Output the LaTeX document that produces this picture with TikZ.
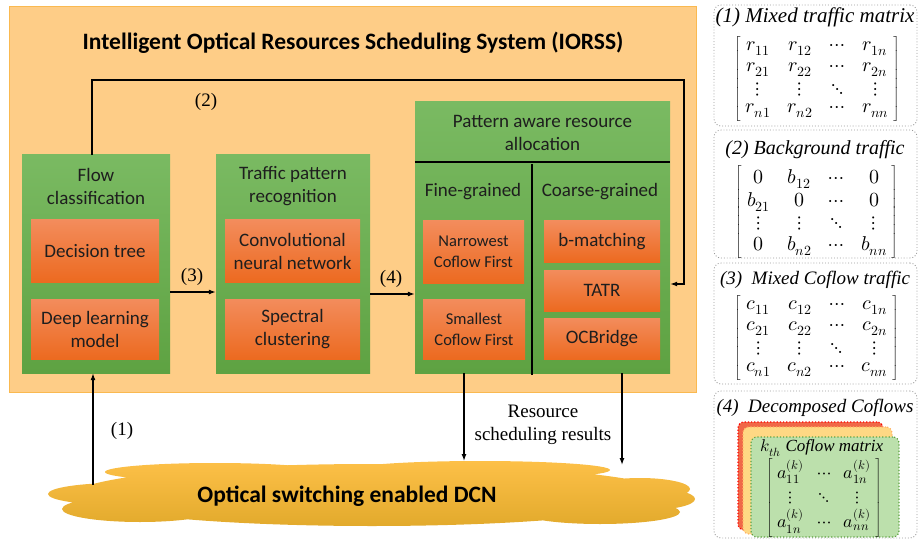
\documentclass[tikz,border=0pt]{standalone}
\usepackage{fontspec}
\usepackage{unicode-math}
\setmainfont{Liberation Serif}
\setmathfont{latinmodern-math.otf}
\newfontfamily\boxfont{Carlito}
\usetikzlibrary{arrows.meta,matrix}
\definecolor{bgorange}{RGB}{254,205,135}
\definecolor{bgedge}{RGB}{250,185,80}
\definecolor{grntop}{RGB}{122,186,98}
\definecolor{grnbot}{RGB}{94,162,66}
\definecolor{orgtop}{RGB}{243,140,92}
\definecolor{orgbot}{RGB}{236,106,32}
\definecolor{cldtop}{RGB}{253,192,72}
\definecolor{cldmid}{RGB}{251,188,32}
\definecolor{cldbot}{RGB}{226,170,44}
\definecolor{txtdark}{RGB}{30,30,30}
\definecolor{cardred}{RGB}{240,104,72}
\definecolor{cardyel}{RGB}{255,216,132}
\definecolor{cardgrn}{RGB}{188,224,172}
\begin{document}
\begin{tikzpicture}[x=1pt,y=-1pt,
    sz/.style 2 args={minimum width=#1pt,minimum height=#2pt},
    grnbox/.style={rectangle,inner sep=0pt,top color=grntop,bottom color=grnbot},
    orgbox/.style={rectangle,inner sep=0pt,top color=orgtop,bottom color=orgbot,text=txtdark,align=center,font=\boxfont\fontsize{19}{23}\selectfont},
    btext/.style={text=txtdark,align=center,font=\boxfont\fontsize{19}{23}\selectfont},
    lbl/.style={align=center,font=\fontsize{19}{23}\selectfont},
    arr/.style={-{Latex[length=7pt,width=5pt]},line width=1.3pt},
    panel/.style={draw=gray!80,dotted,line width=0.9pt,rounded corners=7pt,inner sep=0pt},
    ptitle/.style={font=\itshape\fontsize{#1}{22}\selectfont},
    card/.style={rectangle,rounded corners=6pt,dotted,line width=1.2pt,inner sep=0pt},
    mat/.style={matrix of math nodes,left delimiter={[},right delimiter={]},column sep=17pt,row sep=0pt,
      nodes={minimum height=20pt,inner sep=0pt,font=\fontsize{20}{21}\selectfont}}]
\useasboundingbox (0,0) rectangle (918,540);

\node[draw=bgedge,fill=bgorange,line width=0.8pt,sz={687}{386}] (bg) at (352.5,199) {};
\node[font=\boxfont\bfseries\fontsize{23.5}{28}\selectfont] (title) at (353,43) {Intelligent Optical Resources Scheduling System (IORSS)};

\node[grnbox,sz={148}{218}] (flow) at (96,264) {};
\node[btext] (flowT) at (96,186) {Flow\\classification};
\node[orgbox,sz={128}{62}] (dtree) at (95,251) {Decision tree};
\node[orgbox,sz={128}{60}] (dlm) at (95,329) {Deep learning\\model};

\node[grnbox,sz={154}{218}] (tpr) at (293,264) {};
\node[btext] (tprT) at (293,186) {Traffic pattern\\recognition};
\node[orgbox,sz={135}{62}] (cnn) at (292.5,251) {Convolutional\\neural network};
\node[orgbox,sz={135}{60}] (spc) at (292.5,329) {Spectral\\clustering};

\node[grnbox,sz={255}{271}] (pat) at (542.5,237.5) {};
\node[btext] (patT) at (542.5,133) {Pattern aware resource\\allocation};
\draw[line width=2.3pt] (pat.west |- 0,162) -- (pat.east |- 0,162);
\draw[line width=2.3pt] (532,164) -- (532,375);
\node[btext] (fine) at (473,192) {Fine-grained};
\node[btext] (coarse) at (600,192) {Coarse-grained};
\node[orgbox,sz={101}{62},font=\boxfont\fontsize{16.5}{21}\selectfont] (ncf) at (473.5,252) {Narrowest\\Coflow First};
\node[orgbox,sz={102}{60},font=\boxfont\fontsize{16.5}{21}\selectfont] (scf) at (474,329) {Smallest\\Coflow First};
\node[orgbox,sz={116}{41}] (bm) at (602,241.5) {b-matching};
\node[orgbox,sz={116}{41}] (tatr) at (602,290.5) {TATR};
\node[orgbox,sz={116}{41}] (ocb) at (602,338.5) {OCBridge};

\draw[arr] ([xshift=-4pt]flow.north) |- (684,80) |- (pat.east |- 0,284);
\node[lbl] (l2) at (206,102) {(2)};
\draw[arr] ([yshift=-28pt]flow.east) coordinate (a3) -- (a3 -| tpr.west);
\node[lbl] (l3) at (192,277) {(3)};
\draw[arr] ([yshift=-30pt]tpr.east) coordinate (a4) -- (a4 -| pat.west);
\node[lbl] (l4) at (391,279) {(4)};

\shade[top color=cldtop,middle color=cldmid,bottom color=cldbot]
  (372,495) ellipse [x radius=298pt,y radius=31pt]
  (118,494) ellipse [x radius=70pt,y radius=11pt]
  (140,509) ellipse [x radius=78pt,y radius=13pt]
  (215,472) ellipse [x radius=110pt,y radius=9pt]
  (480,470) ellipse [x radius=130pt,y radius=9pt]
  (640,489) ellipse [x radius=50pt,y radius=11pt]
  (648,499) ellipse [x radius=47pt,y radius=11pt]
  (600,512) ellipse [x radius=80pt,y radius=12pt];
\node[font=\boxfont\bfseries\fontsize{23.5}{28}\selectfont] (dcn) at (347,496) {Optical switching enabled DCN};

\coordinate (c1) at (93,485);
\draw[arr] (c1) -- (c1 |- flow.south);
\node[lbl] (l1) at (122,431) {(1)};
\coordinate (r1) at (464,461);
\coordinate (r2) at (622,465);
\draw[arr] (r1 |- pat.south) -- (r1);
\draw[arr] (r2 |- pat.south) -- (r2);
\node[lbl] (res) at (543,425) {Resource\\scheduling results};

\node[panel,sz={203}{121}] (p1) at (815.5,65.5) {};
\node[ptitle=21] (t1) at (815,17) {(1) Mixed traffic matrix};
\matrix (m1) [mat] at (817,79) {
  r_{11} & r_{12} & \cdots & r_{1n} \\
  r_{21} & r_{22} & \cdots & r_{2n} \\
  \vdots & \vdots & \ddots & \vdots \\
  r_{n1} & r_{n2} & \cdots & r_{nn} \\
};

\node[panel,sz={203}{128}] (p2) at (815.5,194) {};
\node[ptitle=20] (t2) at (815,150) {(2) Background traffic};
\matrix (m2) [mat] at (817,212) {
  0 & b_{12} & \cdots & 0 \\
  b_{21} & 0 & \cdots & 0 \\
  \vdots & \vdots & \ddots & \vdots \\
  0 & b_{n2} & \cdots & b_{nn} \\
};

\node[panel,sz={203}{121}] (p3) at (815.5,323.5) {};
\node[ptitle=19] (t3) at (815,280) {(3)\enspace Mixed Coflow traffic};
\matrix (m3) [mat] at (817,338) {
  c_{11} & c_{12} & \cdots & c_{1n} \\
  c_{21} & c_{22} & \cdots & c_{2n} \\
  \vdots & \vdots & \ddots & \vdots \\
  c_{n1} & c_{n2} & \cdots & c_{nn} \\
};

\node[panel,sz={203}{147}] (p4) at (815.5,464.5) {};
\node[ptitle=19] (t4) at (815,408) {(4)\enspace Decomposed Coflows};
\node[card,fill=cardred,draw=red,sz={145}{108}] (cR) at (810.5,476) {};
\node[card,fill=cardyel,draw=orange!60,sz={149}{107}] (cY) at (817.5,480.5) {};
\node[card,fill=cardgrn,draw=grnbot,sz={148}{100}] (cG) at (825,487) {};
\node[font=\itshape\fontsize{17}{20}\selectfont] (kt) at (822,448) {$k_{th}$ Coflow matrix};
\matrix (m4) [mat,column sep=13pt,nodes={minimum height=22pt,inner sep=0pt,font=\fontsize{18}{20}\selectfont}] at (824,498) {
  a^{(k)}_{11} & \cdots & a^{(k)}_{1n} \\
  \vdots & \ddots & \vdots \\
  a^{(k)}_{1n} & \cdots & a^{(k)}_{nn} \\
};
\end{tikzpicture}
\end{document}
